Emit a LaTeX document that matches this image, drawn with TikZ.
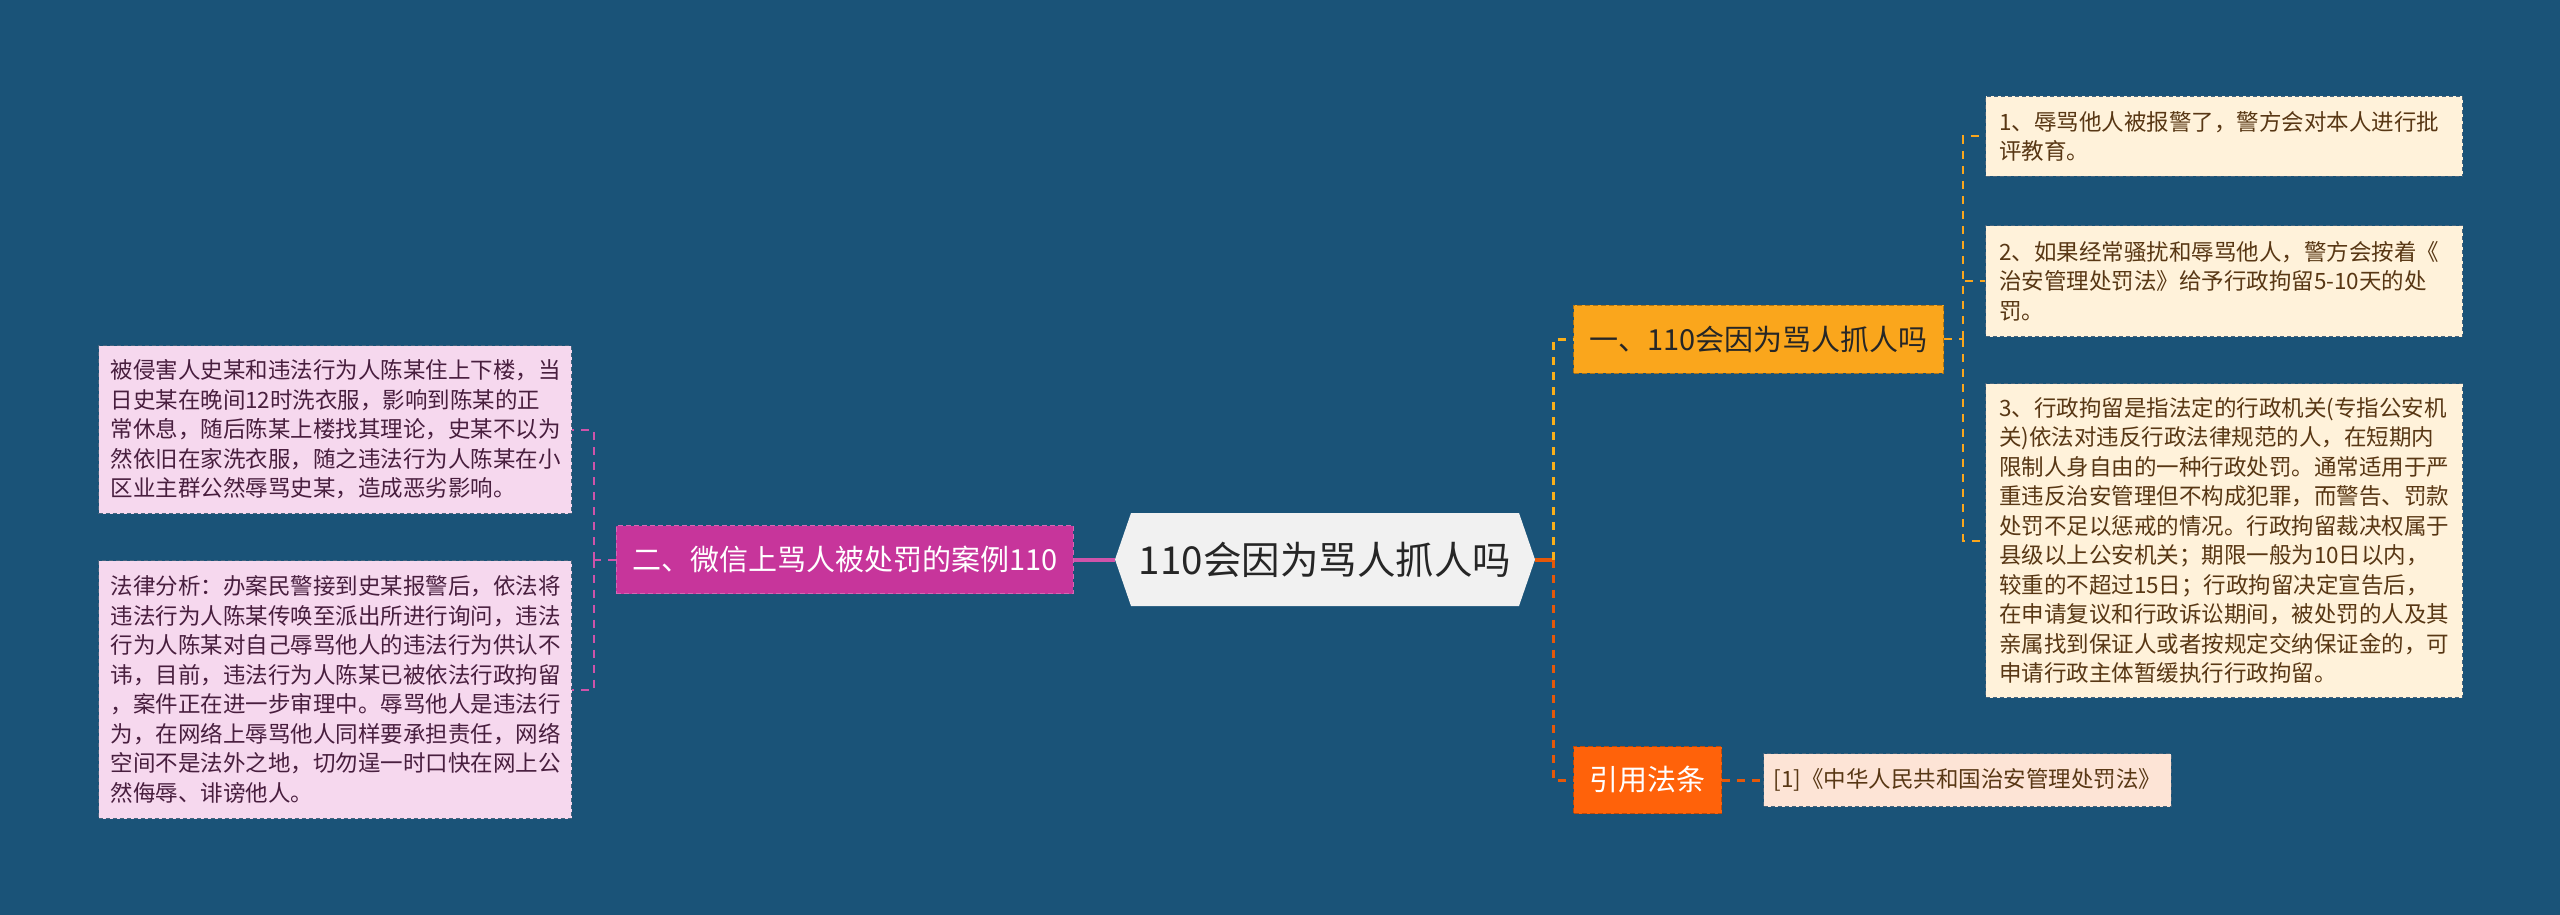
\documentclass[tikz,border=0pt]{standalone}
\usepackage{fontspec}
\setmainfont{Noto Sans CJK SC}
\usetikzlibrary{positioning,shapes.symbols}

\definecolor{bgblue}{RGB}{26,83,120}
\definecolor{rootgray}{RGB}{241,241,241}
\definecolor{casemag}{RGB}{199,53,155}
\definecolor{askgold}{RGB}{250,166,28}
\definecolor{citered}{RGB}{255,98,10}
\definecolor{cream}{RGB}{255,242,218}
\definecolor{pinkleaf}{RGB}{246,216,238}
\definecolor{peach}{RGB}{253,228,214}
\definecolor{leafedge}{RGB}{70,100,125}
\definecolor{browntext}{RGB}{88,55,20}
\definecolor{plumtext}{RGB}{72,30,62}

\begin{document}
\begin{tikzpicture}[
  x=1pt, y=-1pt,
  node distance=41pt,
  rootnode/.style={signal, signal to=west and east, signal pointer angle=142, fill=rootgray, text=black!85, minimum width=420pt, minimum height=93pt, inner sep=0pt, font=\fontsize{38.5}{42}\selectfont},
  branchbox/.style={draw, dash pattern=on 5pt off 3pt, line width=1pt, minimum height=68pt, inner xsep=16pt, font=\fontsize{29}{33}\selectfont},
  leafbox/.style={draw=leafedge, dash pattern=on 4pt off 3pt, line width=1pt, align=left, inner xsep=13.5pt, inner ysep=0pt, font=\fontsize{22.5}{29.5}\selectfont},
  linkline/.style={line width=3pt, dash pattern=on 8pt off 7pt},
  thinlink/.style={line width=2pt, dash pattern=on 8pt off 7pt},
  stubline/.style={line width=4pt}
]
\fill[bgblue] (0,0) rectangle (2560,915);
\useasboundingbox (0,0) rectangle (2560,915);

% centre and main branches
\node[rootnode] (root) at (1325,559.5) {110会因为骂人抓人吗};
\node[branchbox, fill=casemag, draw=casemag!75!white, text=white, left=of root] (case) {二、微信上骂人被处罚的案例110};
\node[branchbox, fill=askgold, draw=askgold!70!black, text=black!85, anchor=west] (ask) at (1573,339) {一、110会因为骂人抓人吗};
\node[branchbox, fill=citered, draw=citered!75!black, text=white, minimum height=67pt, anchor=west] (cite) at (1573,780) {引用法条};

% right leaves
\node[leafbox, fill=cream, text=browntext, text width=450pt, minimum height=80pt, anchor=north west] (r1) at (1985,96)
  {1、辱骂他人被报警了，警方会对本人进行批\\评教育。};
\node[leafbox, fill=cream, text=browntext, text width=450pt, minimum height=111pt, anchor=north west] (r2) at (1985,225)
  {2、如果经常骚扰和辱骂他人，警方会按着《\\治安管理处罚法》给予行政拘留5-10天的处\\罚。};
\node[leafbox, fill=cream, text=browntext, text width=450pt, minimum height=314pt, anchor=north west] (r3) at (1985,383)
  {3、行政拘留是指法定的行政机关(专指公安机\\关)依法对违反行政法律规范的人，在短期内\\限制人身自由的一种行政处罚。通常适用于严\\重违反治安管理但不构成犯罪，而警告、罚款\\处罚不足以惩戒的情况。行政拘留裁决权属于\\县级以上公安机关；期限一般为10日以内，\\较重的不超过15日；行政拘留决定宣告后，\\在申请复议和行政诉讼期间，被处罚的人及其\\亲属找到保证人或者按规定交纳保证金的，可\\申请行政主体暂缓执行行政拘留。};

% left leaves
\node[leafbox, fill=pinkleaf, text=plumtext, text width=449pt, inner xsep=12pt, minimum height=168pt, anchor=north west] (l1) at (98,345)
  {被侵害人史某和违法行为人陈某住上下楼，当\\日史某在晚间12时洗衣服，影响到陈某的正\\常休息，随后陈某上楼找其理论，史某不以为\\然依旧在家洗衣服，随之违法行为人陈某在小\\区业主群公然辱骂史某，造成恶劣影响。};
\node[leafbox, fill=pinkleaf, text=plumtext, text width=449pt, inner xsep=12pt, minimum height=258pt, anchor=north west] (l2) at (98,560)
  {法律分析：办案民警接到史某报警后，依法将\\违法行为人陈某传唤至派出所进行询问，违法\\行为人陈某对自己辱骂他人的违法行为供认不\\讳，目前，违法行为人陈某已被依法行政拘留\\，案件正在进一步审理中。辱骂他人是违法行\\为，在网络上辱骂他人同样要承担责任，网络\\空间不是法外之地，切勿逞一时口快在网上公\\然侮辱、诽谤他人。};

% cited law
\node[leafbox, fill=peach, text=browntext, inner xsep=10pt, minimum height=53pt, right=of cite] (law) {[1]《中华人民共和国治安管理处罚法》};

% connectors
\coordinate (rtrunk) at ([xshift=18pt]root.east);
\coordinate (atrunk) at ([xshift=19pt]ask.east);
\coordinate (ltrunk) at ([xshift=-22pt]case.west);

\draw[stubline, citered!90!black] (root.east) -- (rtrunk);
\draw[linkline, askgold!90!yellow] (rtrunk) |- (ask.west);
\draw[linkline, citered!90!black] (rtrunk) |- (cite.west);
\draw[linkline, citered!90!black] (cite.east) -- (law.west);

\draw[thinlink, askgold] (ask.east) -- (atrunk);
\foreach \leaf in {r1,r2,r3}
  \draw[thinlink, askgold] (atrunk) |- (\leaf.west);

\draw[stubline, casemag!85!white] (root.west) -- (case.east);
\draw[thinlink, casemag!85!white] (case.west) -- (ltrunk);
\foreach \leaf in {l1,l2}
  \draw[thinlink, casemag!85!white] (ltrunk) |- (\leaf.east);
\end{tikzpicture}
\end{document}
